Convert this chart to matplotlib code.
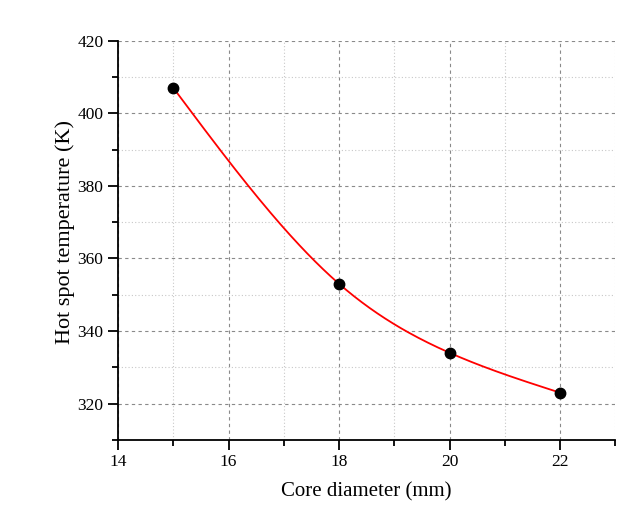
import numpy as np
import matplotlib
matplotlib.use("Agg")
import matplotlib.pyplot as plt
from matplotlib.ticker import MultipleLocator

core_diameter = [15, 18, 20, 22]
hot_spot_temp = [407, 353, 334, 323]

plt.rcParams['font.family'] = ['Liberation Serif', 'DejaVu Serif']

def natural_spline(x, y, n=200):
    x = np.asarray(x, float); y = np.asarray(y, float)
    m = len(x); h = np.diff(x)
    A = np.zeros((m, m)); b = np.zeros(m)
    A[0, 0] = A[-1, -1] = 1
    for i in range(1, m - 1):
        A[i, i - 1] = h[i - 1]; A[i, i] = 2 * (h[i - 1] + h[i]); A[i, i + 1] = h[i]
        b[i] = 6 * ((y[i + 1] - y[i]) / h[i] - (y[i] - y[i - 1]) / h[i - 1])
    M = np.linalg.solve(A, b)
    xs = np.linspace(x[0], x[-1], n); ys = np.empty_like(xs)
    for k, xv in enumerate(xs):
        i = min(np.searchsorted(x, xv, side='right') - 1, m - 2)
        t0 = x[i + 1] - xv; t1 = xv - x[i]
        ys[k] = (M[i] * t0**3 + M[i + 1] * t1**3) / (6 * h[i]) \
            + (y[i] / h[i] - M[i] * h[i] / 6) * t0 + (y[i + 1] / h[i] - M[i + 1] * h[i] / 6) * t1
    return xs, ys

fig = plt.figure(figsize=(6.35, 5.23), dpi=100)
ax = fig.add_axes([0.186, 0.159, 0.783, 0.763])

xs, ys = natural_spline(core_diameter, hot_spot_temp)
ax.plot(xs, ys, color='red', lw=1.3, zorder=3)
ax.plot(core_diameter, hot_spot_temp, 'o', color='black', ms=7.5, zorder=4)

ax.set_xlim(14, 23)
ax.set_ylim(310, 420)
ax.xaxis.set_major_locator(MultipleLocator(2))
ax.xaxis.set_minor_locator(MultipleLocator(1))
ax.yaxis.set_major_locator(MultipleLocator(20))
ax.yaxis.set_minor_locator(MultipleLocator(10))

ax.grid(which='major', color='#8a8a8a', ls=(0, (3, 3)), lw=0.8)
ax.grid(which='minor', color='#c8c8c8', ls=(0, (1, 2)), lw=0.8)
ax.set_axisbelow(True)

for s in ['top', 'right']:
    ax.spines[s].set_visible(False)
for s in ['left', 'bottom']:
    ax.spines[s].set_linewidth(1.3)

ax.tick_params(which='major', direction='out', length=7, width=1.3, labelsize=12.5)
ax.tick_params(which='minor', direction='out', length=4, width=1.3)

ax.set_xlabel('Core diameter (mm)', fontsize=15)
ax.set_ylabel('Hot spot temperature (K)', fontsize=16)
ax.xaxis.set_label_coords(0.5, -0.105)
ax.yaxis.set_label_coords(-0.087, 0.52)

fig.savefig('out.png', dpi=100)
